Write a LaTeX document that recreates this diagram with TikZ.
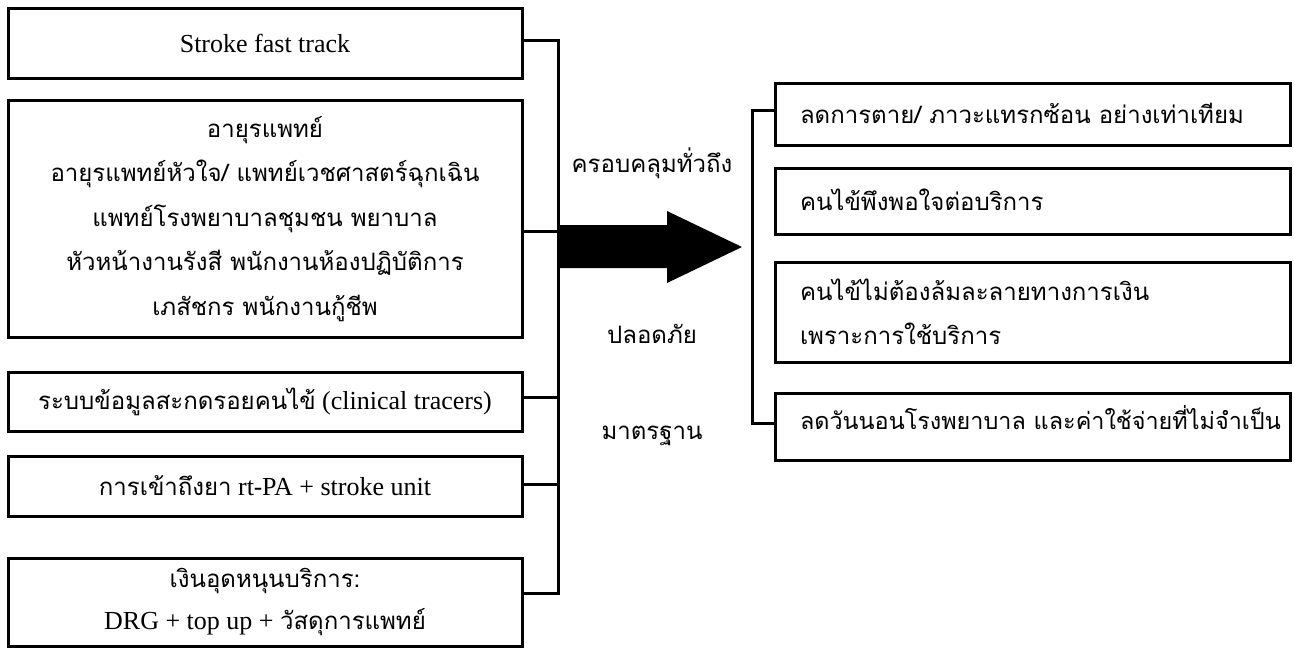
\documentclass[tikz,border=0pt]{standalone}
\usepackage{fontspec}
\setmainfont{Liberation Serif}
\newfontfamily\thaifnt[Script=Thai]{Loma}
\newcommand\thl[1]{{\thaifnt\fontsize{24}{45}\selectfont #1}}
\tikzset{
  lbox/.style={draw, line width=3pt, minimum width=514pt, inner sep=0pt, align=center,
    font=\fontsize{26}{44.5}\selectfont},
  rbox/.style={draw, line width=3pt, minimum width=515pt, inner xsep=25pt, inner ysep=0pt,
    text width=465pt, align=left, font=\thaifnt\fontsize{24}{44}\selectfont},
  oneline/.style={text height=22pt, text depth=3pt},
  mid/.style={font=\thaifnt\fontsize{24}{30}\selectfont, inner sep=0pt, text height=22pt, text depth=3pt},
  conn/.style={line width=3pt},
}
\begin{document}
\begin{tikzpicture}[x=1pt,y=-1pt]
\useasboundingbox (0,0) rectangle (1294,648);
% left boxes
\node[lbox, minimum height=70pt] (b1) at (265,43) {Stroke fast track};
\node[lbox, minimum height=237pt, font=\thaifnt\fontsize{24}{44.5}\selectfont] (b2) at (265,219) {อายุรแพทย์\\
อายุรแพทย์หัวใจ/ แพทย์เวชศาสตร์ฉุกเฉิน\\
แพทย์โรงพยาบาลชุมชน พยาบาล\\
หัวหน้างานรังสี พนักงานห้องปฏิบัติการ\\
เภสัชกร พนักงานกู้ชีพ};
\node[lbox, minimum height=59pt] (b3) at (265,401.5) {\thl{ระบบข้อมูลสะกดรอยคนไข้} (clinical tracers)};
\node[lbox, minimum height=60pt] (b4) at (265,486) {\thl{การเข้าถึงยา} rt\thl{-}PA + stroke unit};
\node[lbox, minimum height=88pt] (b5) at (265,602) {\thl{เงินอุดหนุนบริการ:}\\[-2pt]
DRG + top up + \thl{วัสดุการแพทย์}};
% left bracket
\coordinate (lt) at (558,40);
\coordinate (lb) at (558,593);
\coordinate (l2) at (558,231);
\coordinate (l3) at (558,397);
\coordinate (l4) at (558,484);
\draw[conn] (b1.east |- lt) -- (lt) -- (lb) -- (b5.east |- lb);
\draw[conn] (b2.east |- l2) -- (l2);
\draw[conn] (b3.east |- l3) -- (l3);
\draw[conn] (b4.east |- l4) -- (l4);
% big arrow
\fill (558,225) -- (667,225) -- (667,211) -- (742,247) -- (667,283) -- (667,268) -- (558,268) -- cycle;
% middle labels
\node[mid] (m1) at (652,163) {ครอบคลุมทั่วถึง};
\node[mid] (m2) at (652,334) {ปลอดภัย};
\node[mid] (m3) at (652,430) {มาตรฐาน};
% right boxes
\node[rbox, oneline, minimum height=62pt] (r1) at (1032.5,114) {ลดการตาย/ ภาวะแทรกซ้อน อย่างเท่าเทียม};
\node[rbox, oneline, minimum height=66pt] (r2) at (1032.5,201) {คนไข้พึงพอใจต่อบริการ};
\node[rbox, minimum height=100pt] (r3) at (1032.5,312) {\rule{0pt}{20pt}คนไข้ไม่ต้องล้มละลายทางการเงิน\\
เพราะการใช้บริการ};
\node[rbox, minimum height=67pt, text height=18pt, text depth=12pt, font=\thaifnt\fontsize{23.4}{44}\selectfont] (r4) at (1032.5,426.5) {\mbox{ลดวันนอนโรงพยาบาล และค่าใช้จ่ายที่ไม่จำเป็น}};
% right bracket
\coordinate (rt) at (752,110);
\coordinate (rb) at (752,423);
\draw[conn] (r1.west |- rt) -- (rt) -- (rb) -- (r4.west |- rb);
\end{tikzpicture}
\end{document}
